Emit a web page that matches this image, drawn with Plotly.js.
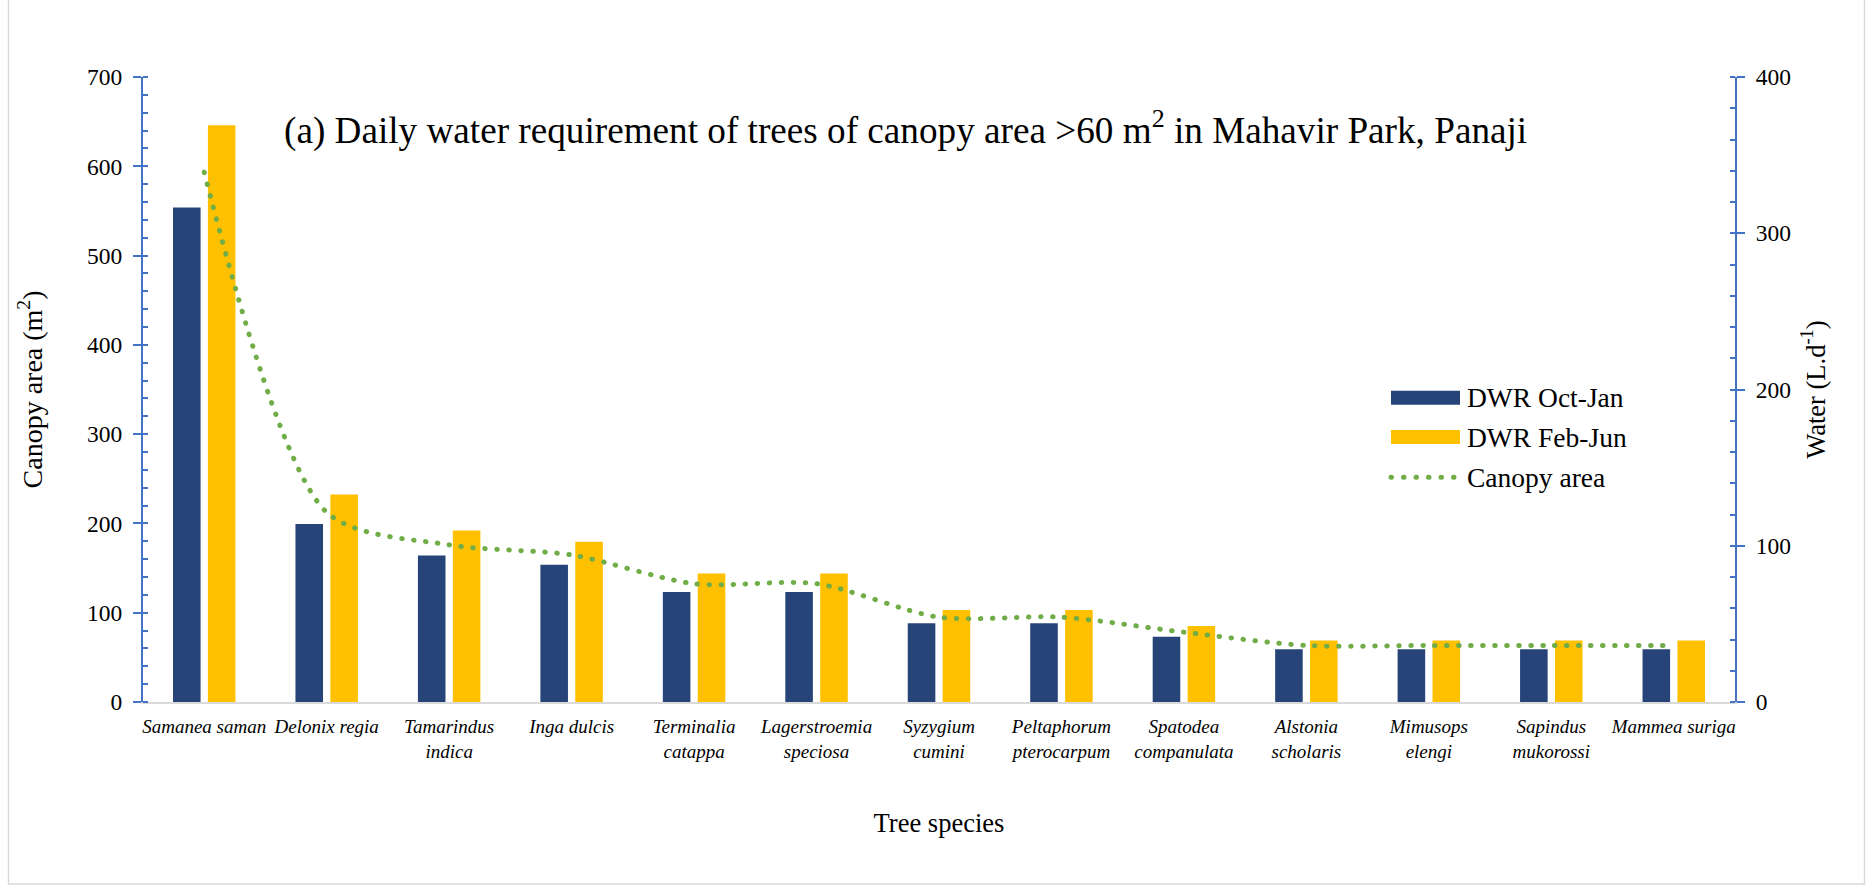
<!DOCTYPE html>
<html>
<head>
<meta charset="utf-8">
<script src="https://cdn.plot.ly/plotly-3.0.1.min.js"></script>
<style>
  html, body { margin: 0; padding: 0; background: #ffffff; }
  #chart { width: 1868px; height: 886px; }
  .scatterlayer .js-line, .shapelayer path.dotline { stroke-linecap: round; }
</style>
</head>
<body>
<div id="chart"></div>
<script>
// Tree species (categories) and their two-line tick labels
const species = [
  "Samanea saman", "Delonix regia", "Tamarindus indica", "Inga dulcis",
  "Terminalia catappa", "Lagerstroemia speciosa", "Syzygium cumini",
  "Peltaphorum pterocarpum", "Spatodea companulata", "Alstonia scholaris",
  "Mimusops elengi", "Sapindus mukorossi", "Mammea suriga"
];
const tickLabels = [
  "Samanea saman", "Delonix regia", "Tamarindus<br>indica", "Inga dulcis",
  "Terminalia<br>catappa", "Lagerstroemia<br>speciosa", "Syzygium<br>cumini",
  "Peltaphorum<br>pterocarpum", "Spatodea<br>companulata", "Alstonia<br>scholaris",
  "Mimusops<br>elengi", "Sapindus<br>mukorossi", "Mammea suriga"
];

// Daily water requirement (L per day), two seasons
const dwrOctJan = [316.5, 113.9, 93.8, 87.9, 70.4, 70.4, 50.4, 50.4, 41.7, 33.7, 33.7, 33.7, 33.7];
const dwrFebJun = [369.1, 132.8, 109.8, 102.6, 82.3, 82.3, 58.9, 58.9, 48.7, 39.3, 39.3, 39.3, 39.3];

// Canopy area (m2)
const canopyArea = [593.4, 212.5, 176.0, 164.7, 132.5, 132.5, 95.0, 95.0, 78.2, 63.3, 63.3, 63.3, 63.3];

const FONT = "Liberation Serif, Times New Roman, serif";
const AXIS_BLUE = "#4472C4";
const DARK = "#264478";
const GOLD = "#FFC000";
const GREEN = "#70AD47";

// plot area in pixels, used to place the legend and heading in paper units
const W = 1868, H = 886;
const M = { l: 143, r: 133, t: 77, b: 184 };
const PW = W - M.l - M.r, PH = H - M.t - M.b;
const px = x => (x - M.l) / PW;
const py = y => (H - M.b - y) / PH;

const traces = [
  {
    type: "bar", name: "DWR Oct-Jan", x: species, y: dwrOctJan,
    marker: { color: DARK }, yaxis: "y", showlegend: false, hoverinfo: "x+y"
  },
  {
    type: "bar", name: "DWR Feb-Jun", x: species, y: dwrFebJun,
    marker: { color: GOLD }, yaxis: "y", showlegend: false, hoverinfo: "x+y"
  },
  {
    type: "scatter", mode: "lines", name: "Canopy area", x: species, y: canopyArea,
    yaxis: "y2", line: { color: GREEN, width: 5, dash: "0.5px,11.5px", shape: "spline", smoothing: 0.8 },
    showlegend: false, hoverinfo: "x+y"
  }
];

const yCommon = {
  range: [0, 400], dtick: 100, tick0: 0, fixedrange: true,
  showline: true, linecolor: AXIS_BLUE, linewidth: 2,
  ticks: "outside", ticklen: 8, tickwidth: 2, tickcolor: AXIS_BLUE,
  minor: { dtick: 20, ticks: "inside", ticklen: 5, tickwidth: 2, tickcolor: AXIS_BLUE },
  showgrid: false, zeroline: false, automargin: true,
  tickfont: { family: FONT, size: 23.5, color: "#000" },
  ticklabelstandoff: 6
};

// Legend built from shapes and labels so the swatches keep their wide shape
const legendItems = [
  { label: "DWR Oct-Jan", kind: "bar", color: DARK, y: 397.7 },
  { label: "DWR Feb-Jun", kind: "bar", color: GOLD, y: 437 },
  { label: "Canopy area", kind: "line", color: GREEN, y: 477.3 }
];
const shapes = [];
const annotations = [];
legendItems.forEach(it => {
  if (it.kind === "bar") {
    shapes.push({ type: "rect", xref: "paper", yref: "paper",
      x0: px(1391), x1: px(1460), y0: py(it.y - 7), y1: py(it.y + 7),
      fillcolor: it.color, line: { width: 0 } });
  } else {
    shapes.push({ type: "line", xref: "paper", yref: "paper",
      x0: px(1391), x1: px(1456), y0: py(it.y), y1: py(it.y),
      line: { color: it.color, width: 5, dash: "0.5px,12px" } });
  }
  annotations.push({ xref: "paper", yref: "paper", x: px(1465), y: py(it.y),
    xanchor: "left", yanchor: "middle", showarrow: false, text: it.label,
    font: { family: FONT, size: 27.5, color: "#000" } });
});

// chart heading inside the plot area
annotations.push({
  xref: "paper", yref: "paper", x: px(282), y: py(128),
  xanchor: "left", yanchor: "middle", showarrow: false,
  text: "(a) Daily water requirement of trees of canopy area >60 m<sup>2</sup> in Mahavir Park, Panaji",
  font: { family: FONT, size: 37.2, color: "#000" }
});

// outer chart frame (top edge lies just outside the page)
shapes.push({ type: "rect", xref: "paper", yref: "paper",
  x0: px(8.5), x1: px(1864.5), y0: py(884), y1: py(-4),
  line: { color: "#D9D9D9", width: 1.5 }, fillcolor: "rgba(0,0,0,0)", layer: "below" });

const layout = {
  width: W, height: H,
  margin: M,
  paper_bgcolor: "#ffffff", plot_bgcolor: "#ffffff",
  font: { family: FONT, color: "#000" },
  barmode: "group", bargap: 0.43, bargroupgap: 0.21,
  showlegend: false,
  xaxis: {
    type: "category", tickvals: species, ticktext: tickLabels,
    showline: true, linecolor: "#D9D9D9", linewidth: 2,
    ticks: "", showgrid: false, zeroline: false, fixedrange: true, automargin: true,
    tickfont: { family: FONT, size: 19, color: "#000", style: "italic" },
    ticklabelstandoff: 6,
    title: { text: "Tree species", font: { family: FONT, size: 26.5, color: "#000" }, standoff: 53 }
  },
  yaxis: Object.assign({}, yCommon, {
    side: "right", range: [0, 400],
    title: { text: "Water (L.d<sup>-1</sup>)", font: { family: FONT, size: 26.5, color: "#000" }, standoff: 16 }
  }),
  yaxis2: Object.assign({}, yCommon, {
    side: "left", overlaying: "y", range: [0, 700],
    title: { text: "Canopy area (m<sup>2</sup>)", font: { family: FONT, size: 28, color: "#000" }, standoff: 36 }
  }),
  shapes: shapes,
  annotations: annotations
};

Plotly.newPlot("chart", traces, layout, { displayModeBar: false, staticPlot: true }).then(gd => {
  gd.querySelectorAll(".shapelayer path").forEach(p => {
    if ((p.getAttribute("style") || "").indexOf("dasharray") >= 0) p.classList.add("dotline");
  });
});
</script>
</body>
</html>
